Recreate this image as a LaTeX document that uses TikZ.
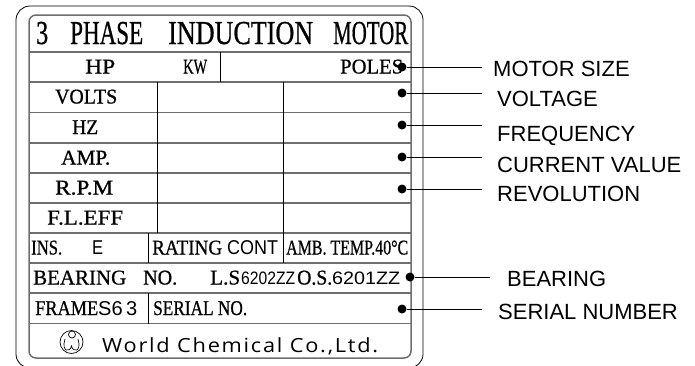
\documentclass[tikz,border=0pt]{standalone}
\usepackage{fontspec}
\usepackage{tikz}
\setmainfont{Liberation Serif}
\newfontfamily\platefont[FakeBold=0.8]{Liberation Serif}
\newfontfamily\labelfont{Liberation Sans}
\newfontfamily\companyfont[LetterSpace=8]{Open Sans}
\definecolor{rule}{RGB}{110,110,110}
\newcommand{\rowfont}{\platefont\fontsize{21}{21}\selectfont}
\newcommand{\titlefont}{\fontsize{33.5}{33.5}\selectfont}
\newcommand{\sansfont}{\labelfont\fontsize{20}{20}\selectfont}
\newcommand{\platetext}[5]{\node[plate] (#1) at (#2,#3) {\resizebox{#4pt}{\height}{#5}};}
\newcommand{\drawrule}{\draw[rule, line width=1.3pt]}
\newcommand{\drawsep}{\draw[line width=0.8pt]}

\begin{document}
\begin{tikzpicture}[x=1pt, y=-1pt,
    plate/.style={anchor=base west, inner sep=0pt, font=\rowfont},
    tag/.style={anchor=base west, inner sep=0pt, font=\labelfont\fontsize{22}{22}\selectfont},
    pin/.style={circle, fill, inner sep=0pt, minimum size=9pt}]
\useasboundingbox (0,0) rectangle (695,365);
% frames
\draw[line width=0.8pt, rounded corners=14pt] (16,6) rectangle (423,368);
\draw[rule, line width=1.5pt, rounded corners=7pt] (29,15) rectangle (411,358);
% rows
\foreach \y in {52,82,112.5,143,173,203,233,263,293,323.5}{
    \drawrule (29,\y)--(411,\y);
}
\drawsep (220,52)--(220,82);
\drawsep (157,82)--(157,233);
\drawsep (283,82)--(283,263);
\drawsep (148,233)--(148,263);
\drawsep (148,293)--(148,323.5);
% title
\platetext{three}{36}{44}{12}{\titlefont 3}
\platetext{phase}{70}{44}{73}{\titlefont PHASE}
\platetext{induction}{168}{44}{145}{\titlefont INDUCTION}
\platetext{motor}{333}{44}{75}{\titlefont MOTOR}
% rows text
\platetext{hp}{85}{73.5}{30}{HP}
\platetext{kw}{183}{73.5}{24}{KW}
\platetext{poles}{340}{73.5}{63}{POLES}
\platetext{volts}{55}{103.5}{62}{VOLTS}
\platetext{hz}{72}{134}{26}{HZ}
\platetext{amp}{61}{164.5}{49}{AMP.}
\platetext{rpm}{55}{194.5}{58}{R.P.M}
\platetext{eff}{47}{224.5}{76}{F.L.EFF}
\platetext{ins}{31}{254.5}{31}{INS.}
\platetext{insclass}{92}{254.5}{11}{\sansfont E}
\platetext{rating}{152}{254.5}{70}{RATING}
\platetext{cont}{227}{254.5}{51}{\sansfont CONT}
\platetext{amb}{286}{254.5}{122}{AMB.\ TEMP.40°C}
\platetext{bearing}{33}{284.5}{93}{BEARING}
\platetext{no}{143}{284.5}{34}{NO.}
\platetext{ls}{210}{284.5}{30}{L.S}
\platetext{lsno}{241}{284.5}{54}{\labelfont\fontsize{18}{18}\selectfont 6202ZZ}
\platetext{os}{297}{284.5}{35}{O.S.}
\platetext{osno}{332}{284.5}{68}{\labelfont\fontsize{18}{18}\selectfont 6201ZZ}
\platetext{frame}{35}{315}{63}{FRAME}
\platetext{framesize}{98}{315}{39}{\sansfont S6\,3}
\platetext{serial}{153}{315}{94}{SERIAL NO.}
% maker
\platetext{maker}{102}{352}{276}{\companyfont\fontsize{19.5}{19.5}\selectfont World Chemical Co.,Ltd.}
\draw[line width=0.7pt] (71.5,342) circle (11.5);
\draw[line width=0.7pt] (72,334.5) circle (3.5);
\draw[line width=0.7pt] (65,339) .. controls (61,352) and (70,353) .. (71.5,346) .. controls (73,353) and (82,352) .. (78,339);
% pins and labels
\foreach \n/\x/\y/\e in {size/402/67/482,volt/402/93/482,freq/402/125/482,curr/402/157/482,rev/402/189/482,bear/410/277/490,ser/402/309/482}{
    \node[pin] (\n) at (\x,\y) {};
    \coordinate (\n-end) at (\e,\y);
    \draw[line width=0.8pt] (\n)--(\n-end);
}
\node[tag] (sizelabel) at (493,76) {MOTOR SIZE};
\node[tag] (voltlabel) at (497,106.5) {VOLTAGE};
\node[tag] (freqlabel) at (497,141.5) {FREQUENCY};
\node[tag] (currlabel) at (497,172.5) {CURRENT VALUE};
\node[tag] (revlabel) at (497,201) {REVOLUTION};
\node[tag] (bearlabel) at (507,286.5) {BEARING};
\node[tag] (serlabel) at (498,319.5) {SERIAL NUMBER};
\end{tikzpicture}
\end{document}
